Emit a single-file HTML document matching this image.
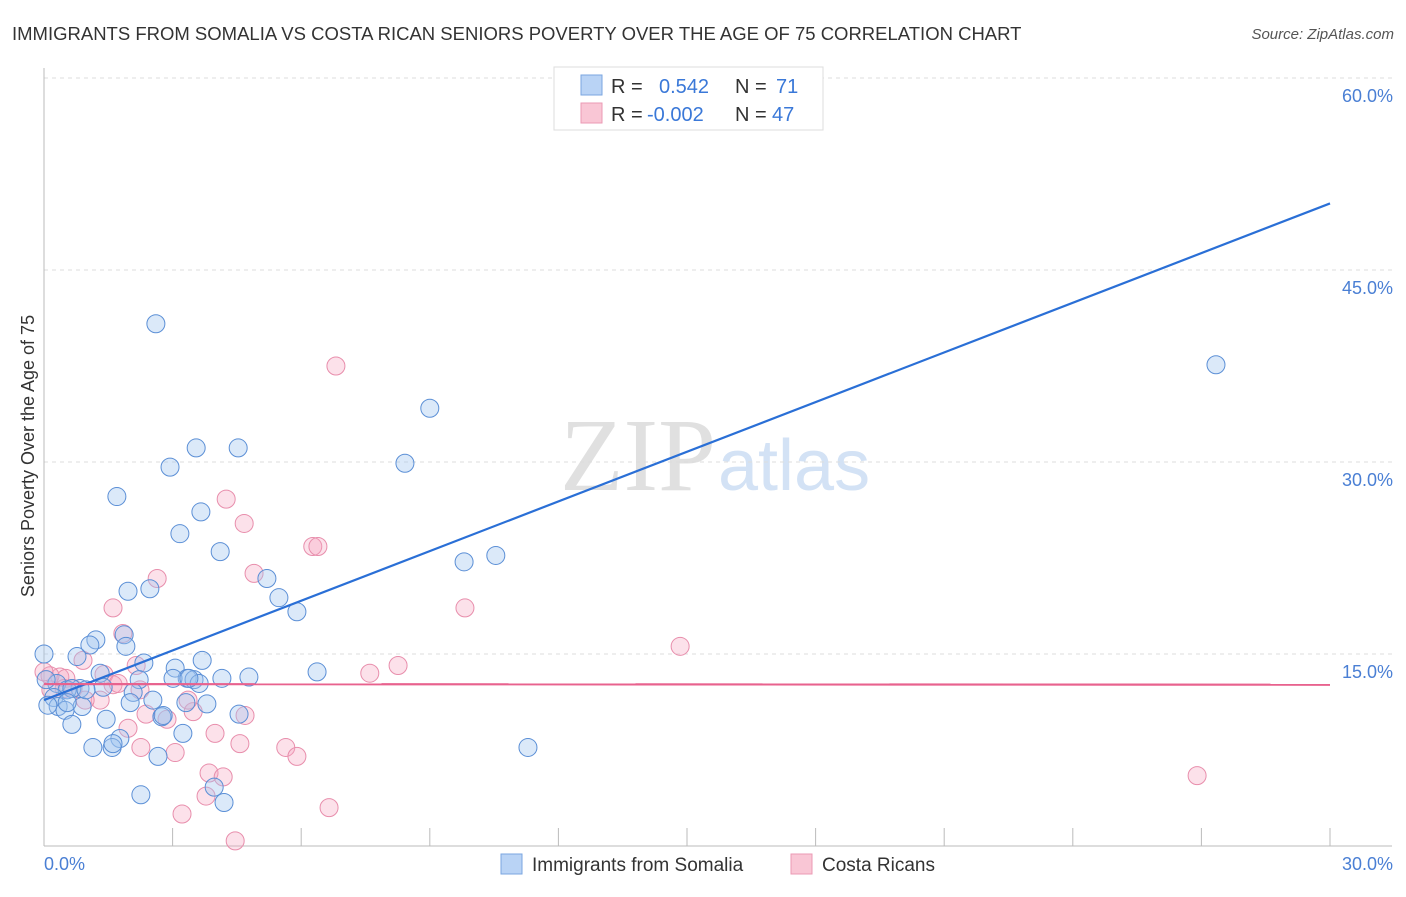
<!DOCTYPE html>
<html><head><meta charset="utf-8"><style>
body{margin:0;background:#fff;font-family:"Liberation Sans",sans-serif;}
</style></head><body>
<svg width="1406" height="892" xmlns="http://www.w3.org/2000/svg" font-family="Liberation Sans, sans-serif">
<text x="12" y="40" font-size="18.5" fill="#333">IMMIGRANTS FROM SOMALIA VS COSTA RICAN SENIORS POVERTY OVER THE AGE OF 75 CORRELATION CHART</text>
<text x="1394" y="39" font-size="15" fill="#555" font-style="italic" text-anchor="end">Source: ZipAtlas.com</text>
<text x="716" y="490" font-size="104" fill="#e0e0e0" text-anchor="end" font-family="Liberation Serif, serif">ZIP</text>
<text x="718" y="490" font-size="72" fill="#d3e2f5">atlas</text>
<g id="grid"></g>
<g id="axes"></g>
<g id="marks"></g>
<text transform="translate(34,456) rotate(-90)" font-size="18" fill="#333" text-anchor="middle">Seniors Poverty Over the Age of 75</text>
<g>
<rect x="554" y="67" width="269" height="63" fill="#fff" stroke="#ddd"/>
<rect x="581" y="75" width="21" height="20" fill="#b9d3f5" stroke="#7aa6e0"/>
<rect x="581" y="103" width="21" height="20" fill="#f9c6d5" stroke="#eb9ab4"/>
<text x="611" y="93" font-size="20" fill="#333">R = </text><text x="659" y="93" font-size="20" fill="#3a78d8">0.542</text>
<text x="735" y="93" font-size="20" fill="#333">N = </text><text x="776" y="93" font-size="20" fill="#3a78d8">71</text>
<text x="611" y="121" font-size="20" fill="#333">R = </text><text x="647" y="121" font-size="20" fill="#3a78d8">-0.002</text>
<text x="735" y="121" font-size="20" fill="#333">N = </text><text x="772" y="121" font-size="20" fill="#3a78d8">47</text>
</g>
<g>
<rect x="501" y="854" width="21" height="20" fill="#b9d3f5" stroke="#7aa6e0"/>
<text x="532" y="871" font-size="19" fill="#333">Immigrants from Somalia</text>
<rect x="791" y="854" width="21" height="20" fill="#f9c6d5" stroke="#eb9ab4"/>
<text x="822" y="871" font-size="19" fill="#333">Costa Ricans</text>
</g>
</svg>
<script>
const blueX=[2.61,1.70,2.94,3.55,4.53,3.17,3.66,4.11,9.00,8.42,9.80,10.54,27.34,1.96,2.47,5.20,5.48,5.90,1.21,1.07,1.87,1.91,0.77,2.33,3.06,3.69,6.37,4.78,4.15,3.34,3.50,3.62,3.01,2.22,1.31,1.38,0.84,0.30,0.54,0.65,0.23,0.33,0.49,0.89,2.08,2.01,2.54,3.31,3.80,1.45,2.75,4.55,0.65,3.24,1.77,1.14,1.59,2.66,11.29,3.97,2.26,4.20,0.0,0.09,1.61,0.54,2.78,3.38,0.05,14.04,0.98];
const blueY=[40.8,27.3,29.6,31.1,31.1,24.4,26.1,23.0,34.2,29.9,22.2,22.7,37.6,19.9,20.1,20.9,19.4,18.3,16.1,15.7,16.5,15.6,14.8,14.3,13.9,14.5,13.6,13.2,13.1,13.1,13.0,12.7,13.1,13.0,13.5,12.4,12.3,12.7,12.2,12.3,11.6,10.9,10.6,10.9,12.0,11.2,11.4,11.2,11.1,9.9,10.1,10.3,9.5,8.8,8.4,7.7,7.7,7.0,7.7,4.6,4.0,3.4,15.0,11.0,8.0,11.2,10.2,13.1,13.0,59.8,12.2];
const pinkX=[6.81,4.25,4.67,2.64,4.90,6.27,6.39,9.82,1.61,1.84,14.84,8.26,7.60,0.91,0.37,0.14,0.51,1.40,1.61,2.15,1.31,0.96,1.73,2.38,2.87,3.48,4.69,1.96,3.99,4.57,5.64,5.90,3.06,2.26,3.85,4.18,3.78,6.65,3.22,4.46,26.90,0.0,0.16,0.47,3.36,0.68,2.24];
const pinkY=[37.5,27.1,25.2,20.9,21.3,23.4,23.4,18.6,18.6,16.6,15.6,14.1,13.5,14.5,13.2,13.3,13.1,13.4,12.6,14.1,11.4,11.4,12.7,10.3,9.9,10.5,10.2,9.2,8.8,8.0,7.7,7.0,7.3,7.7,5.7,5.4,3.9,3.0,2.5,0.4,5.5,13.6,12.2,12.3,11.4,12.3,12.2];
const blueTrend=[11.4,50.2];
const pinkTrend=[12.65,12.6];
const yTicks=[15,30,45,60];
const yTickLabels=["15.0%","30.0%","45.0%","60.0%"];
const xTicks=[0,3,6,9,12,15,18,21,24,27,30];
const NS="http://www.w3.org/2000/svg";
const sx=v=>44+v*(1286/30), sy=v=>846-v*12.8;
function mk(t,a,p){const e=document.createElementNS(NS,t);for(const k in a)e.setAttribute(k,a[k]);p.appendChild(e);return e;}
const grid=document.getElementById('grid'),axes=document.getElementById('axes'),marks=document.getElementById('marks');
yTicks.forEach((v,i)=>{
 const l=mk('line',{x1:44,x2:1392,y1:sy(v),y2:sy(v),stroke:'#ddd','stroke-dasharray':'4,4'},grid);
 
 
 const t=mk('text',{x:1393,y:sy(v)+24,'font-size':18,fill:'#4a7fd4','text-anchor':'end'},axes);
 t.textContent=yTickLabels[i];
 
 
});
let a=mk('line',{x1:44,x2:44,y1:68,y2:846,stroke:'#bbb'},axes);


a=mk('line',{x1:44,x2:1392,y1:846,y2:846,stroke:'#bbb'},axes);


xTicks.forEach(v=>{const l=mk('line',{x1:sx(v),x2:sx(v),y1:828,y2:846,stroke:'#bbb'},axes);
 
 });
let t=mk('text',{x:44,y:870,'font-size':18,fill:'#4a7fd4'},axes);t.textContent='0.0%';


t=mk('text',{x:1393,y:870,'font-size':18,fill:'#4a7fd4','text-anchor':'end'},axes);t.textContent='30.0%';


pinkX.forEach((x,i)=>{const c=mk('circle',{cx:sx(x),cy:sy(pinkY[i]),r:9,fill:'rgba(245,165,192,0.33)',stroke:'#e88eac','stroke-width':1},marks);
 
 });
blueX.forEach((x,i)=>{const c=mk('circle',{cx:sx(x),cy:sy(blueY[i]),r:9,fill:'rgba(160,196,240,0.38)',stroke:'#5b8fd6','stroke-width':1},marks);
 
 });
let ln=mk('line',{x1:sx(0),y1:sy(blueTrend[0]),x2:sx(30),y2:sy(blueTrend[1]),stroke:'#2a6fd6','stroke-width':2.2},marks);


ln=mk('line',{x1:sx(0),y1:sy(pinkTrend[0]),x2:sx(30),y2:sy(pinkTrend[1]),stroke:'#e8628e','stroke-width':2.2},marks);


</script>
</body></html>
